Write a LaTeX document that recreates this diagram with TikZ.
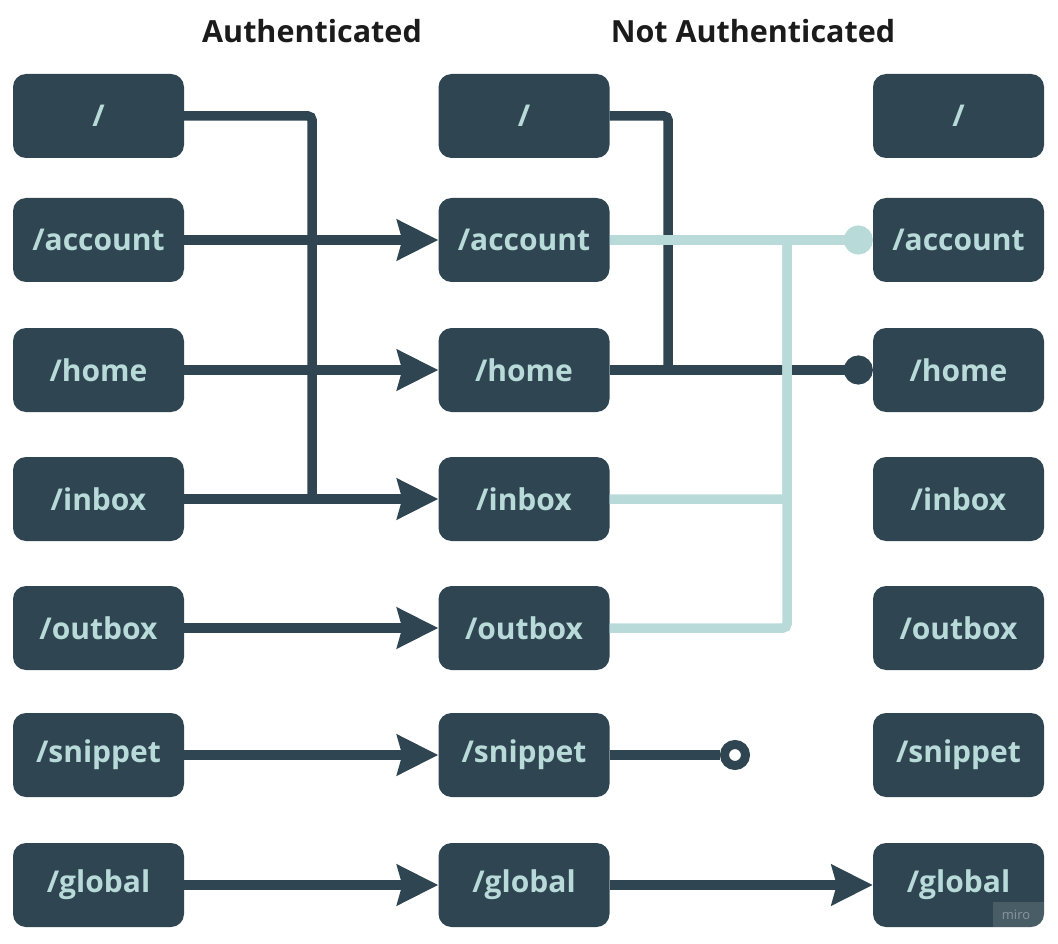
\documentclass[tikz,border=0pt]{standalone}
\usepackage{fontspec}
\setmainfont{Open Sans}
\usetikzlibrary{arrows.meta}
\definecolor{boxc}{HTML}{2F4551}
\definecolor{txtc}{HTML}{B8DBD9}
\definecolor{headc}{HTML}{1B1B1B}
\begin{document}
\begin{tikzpicture}[x=1pt,y=-1pt,
  box/.style={rounded corners=13pt, fill=boxc, minimum width=171pt, minimum height=84pt,
    inner sep=0pt, text=txtc, font=\bfseries\fontsize{30}{36}\selectfont},
  head/.style={text=headc, font=\bfseries\fontsize{30.5}{36}\selectfont, inner sep=0pt},
  dk/.style={draw=boxc, line width=9.5pt},
  lt/.style={draw=txtc, line width=9.5pt},
  arr/.style={-{Stealth[length=41pt, width=40pt, inset=5pt]}},
  dot/.style={-{Circle[length=29pt, width=29pt]}},
]
\useasboundingbox (0,0) rectangle (1058,944);
\node[head] (h1) at (312,31) {Authenticated};
\node[head] (h2) at (753,31) {Not Authenticated};
\foreach \n/\yy/\lbl in {1/116/{/}, 2/240/{/account}, 3/370/{/home}, 4/499/{/inbox}, 5/628/{/outbox}, 6/755/{/snippet}, 7/885/{/global}}{
  \node[box] (a\n) at (98.5,\yy) {\lbl};
  \node[box] (b\n) at (524,\yy) {\lbl};
  \node[box] (c\n) at (958.5,\yy) {\lbl};
}
% watermark
\begin{scope}
  \clip[rounded corners=13pt] (c7.south west) rectangle (c7.north east);
  \fill[white, fill opacity=0.13] (993,902) rectangle (1044,927);
\end{scope}
\node[text=white, text opacity=0.35, font=\fontsize{13}{15}\selectfont, inner sep=0pt] (miro) at (1016,914.5) {miro};
% junction coordinates
\coordinate (j1) at (312,499);
\coordinate (j2) at (668,370);
\coordinate (j3) at (787,240);
% column 1 -> column 2
\draw[dk, rounded corners=4pt] (a1.east) -| (j1);
\foreach \n in {2,3,4,5,6,7}{
  \draw[dk, arr] (a\n.east) -- (b\n.west);
}
% column 2 -> column 3, dark
\draw[dk, rounded corners=4pt] (b1.east) -| (j2);
\draw[dk, dot] (b3.east) -- (c3.west);
\draw[dk, arr] (b7.east) -- (c7.west);
\node[circle, draw=boxc, line width=9pt, fill=white, minimum size=21pt, inner sep=0pt] (k6) at (735,755) {};
\draw[dk] (b6.east) -- (k6.west);
% column 2 -> column 3, light
\draw[lt, dot] (b2.east) -- (c2.west);
\draw[lt, rounded corners=4pt] (b4.east) -| (j3);
\draw[lt, rounded corners=4pt] (b5.east) -| (j3);
\end{tikzpicture}
\end{document}
